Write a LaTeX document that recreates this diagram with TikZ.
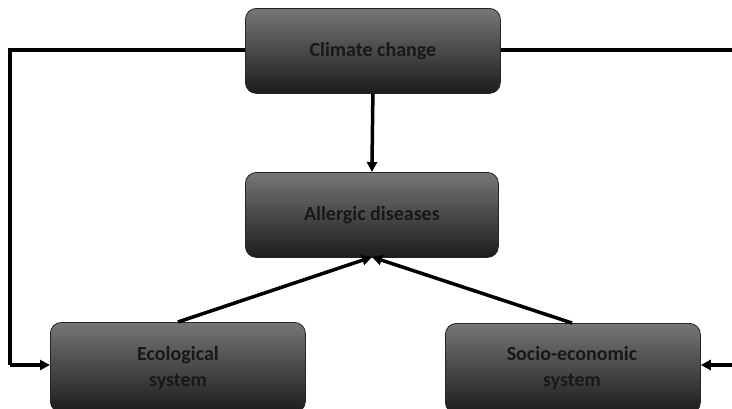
\documentclass[tikz,border=0pt]{standalone}
\usepackage{fontspec}
\setmainfont{Carlito}
\usetikzlibrary{arrows.meta}
\definecolor{boxtop}{RGB}{118,118,118}
\definecolor{boxbot}{RGB}{28,28,28}
\definecolor{txt}{RGB}{24,24,24}
\tikzset{
  box/.style={draw=black!85, line width=0.8pt, rounded corners=11pt, top color=boxtop, bottom color=boxbot, minimum width=255pt, minimum height=85pt, font=\bfseries\fontsize{20}{24}\selectfont, text=txt, align=center, inner sep=0pt},
  lbl/.style={font=\bfseries\fontsize{20}{26}\selectfont, text=txt, align=center},
  conn/.style={line width=3.5pt, draw=black},
  arr/.style={conn, -{Triangle[length=10pt,width=10pt]}}
}
\begin{document}
\begin{tikzpicture}[x=1pt,y=-1pt]
\useasboundingbox (0,0) rectangle (732,408);
\clip (0,0) rectangle (732,408);
\node[box, anchor=north west] (cc) at (245,8) {Climate change};
\node[box, anchor=north west, minimum width=253pt] (ad) at (245,172) {Allergic diseases};
\node[box, anchor=north west, minimum height=90pt] (eco) at (50,322) {};
\node[box, anchor=north west, minimum height=90pt] (soc) at (445,323) {};
\node[lbl] (ecot) at (178,368) {Ecological\\system};
\node[lbl] (soct) at (572,368) {Socio-economic\\system};
\coordinate (lt) at (10,50);
\coordinate (lb) at (10,365);
\coordinate (rt) at (740,50);
\coordinate (rb) at (740,365);
\draw[conn] (cc.west |- lt) -- (lt) -- (lb);
\draw[arr] (lb) -- (eco.west |- lb);
\draw[conn] (cc.east |- rt) -- (rt);
\draw[arr] (rb) -- (soc.east |- rb);
\draw[arr] (cc.south) -- (ad.north);
\coordinate (adb) at (372,257);
\draw[arr] (eco.north -| ecot) -- (adb);
\draw[arr] (soc.north -| soct) -- (adb);
\end{tikzpicture}
\end{document}
